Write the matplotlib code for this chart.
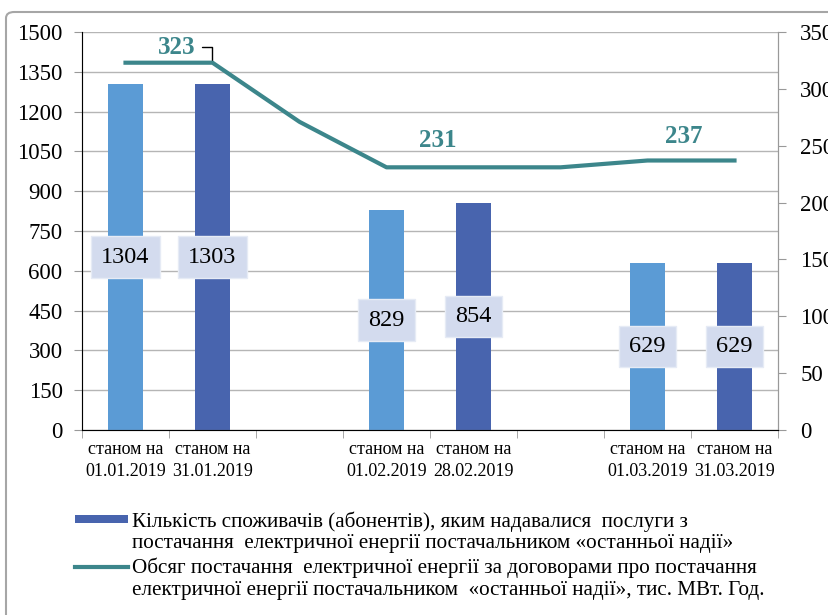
import matplotlib.pyplot as plt
from matplotlib.patches import FancyBboxPatch, Rectangle
from matplotlib.lines import Line2D

plt.rcParams['font.family'] = ['Liberation Serif', 'DejaVu Serif']

categories = ['станом на\n01.01.2019', 'станом на\n31.01.2019', '',
              'станом на\n01.02.2019', 'станом на\n28.02.2019', '',
              'станом на\n01.03.2019', 'станом на\n31.03.2019']
# bars: start-of-month counts (light) and end-of-month counts (dark)
start_pos = [0, 3, 6]
start_vals = [1304, 829, 629]
end_pos = [1, 4, 7]
end_vals = [1303, 854, 629]
# supply volume, thousand MWh
volume = [323, 323, 271, 231, 231, 231, 237, 237]

legend_bar = ('Кількість споживачів (абонентів), яким надавалися  послуги з\n'
              'постачання  електричної енергії постачальником «останньої надії»')
legend_line = ('Обсяг постачання  електричної енергії за договорами про постачання\n'
               'електричної енергії постачальником  «останньої надії», тис. МВт. Год.')

light = '#5b9bd5'
dark = '#4864ae'
teal = '#3c868b'

fig = plt.figure(figsize=(8.29, 6.15), dpi=100)
ax = fig.add_axes([82/829, 1-430/615, 696/829, 398/615])

ax.bar(start_pos, start_vals, width=0.4, color=light, zorder=2)
ax.bar(end_pos, end_vals, width=0.4, color=dark, zorder=2)

box = dict(boxstyle='square,pad=0.42', facecolor='#d3dbee', edgecolor='#e6ebf5', lw=1)
for p, v in zip(start_pos + end_pos, start_vals + end_vals):
    ax.text(p, v / 2, str(v), ha='center', va='center', fontsize=17.5, bbox=box, zorder=3)

ax.set_xlim(-0.5, len(categories) - 0.5)
ax.set_ylim(0, 1500)
ax.set_yticks(range(0, 1501, 150))
ax.set_xticks(range(len(categories)))
ax.set_xticklabels(categories, fontsize=13, linespacing=1.4)
ax.set_xticks([i - 0.5 for i in range(len(categories) + 1)], minor=True)
ax.tick_params(axis='x', which='major', length=0, pad=8)
ax.tick_params(axis='x', which='minor', length=6, color='#999999')
ax.tick_params(axis='y', labelsize=16.5, length=6, color='#999999', pad=8)
ax.yaxis.grid(True, color='#b5b5b5', lw=1)
ax.set_axisbelow(True)
for s in ['left', 'right', 'bottom']:
    ax.spines[s].set_color('#999999')
ax.spines['top'].set_visible(False)

ax2 = ax.twinx()
ax2.plot(range(len(volume)), volume, color=teal, lw=3, zorder=4)
ax2.set_ylim(0, 350)
ax2.set_yticks(range(0, 351, 50))
ax2.tick_params(axis='y', labelsize=16.5, length=6, color='#999999', pad=10)
ax2.spines['top'].set_visible(False)
ax2.spines['right'].set_color('#999999')

ax2.annotate(str(volume[1]), xy=(1, volume[1]), xytext=(-26, 11), textcoords='offset points',
             ha='center', va='center', fontsize=18, fontweight='bold', color=teal,
             arrowprops=dict(arrowstyle='-', color='black', lw=1,
                             connectionstyle='angle,angleA=0,angleB=90,rad=0',
                             shrinkA=3, shrinkB=0))
ax2.annotate(str(volume[3]), xy=(3, volume[3]), xytext=(37, 19), textcoords='offset points',
             ha='center', va='center', fontsize=18, fontweight='bold', color=teal)
ax2.annotate(str(volume[6]), xy=(6, volume[6]), xytext=(26, 17), textcoords='offset points',
             ha='center', va='center', fontsize=18, fontweight='bold', color=teal)

# legend drawn by hand so the marker sits beside the first line of each entry
W, H = 829, 615
fig.patches.append(Rectangle((75/W, 1-523/H), 53/W, 8/H, transform=fig.transFigure,
                             facecolor=dark, edgecolor='none'))
fig.lines.append(Line2D([75/W, 128/W], [1-567/H, 1-567/H], transform=fig.transFigure,
                        color=teal, lw=3))
fig.text(132/W, 1-511/H, legend_bar, ha='left', va='top', fontsize=15.2, linespacing=1.2)
fig.text(132/W, 1-558/H, legend_line, ha='left', va='top', fontsize=15.2, linespacing=1.2)

fig.patches.append(FancyBboxPatch((6/W, -0.05), 1.05, 1 - 12/H + 0.05,
                                  boxstyle='round,pad=0,rounding_size=0.01',
                                  transform=fig.transFigure, facecolor='none',
                                  edgecolor='#a6a6a6', lw=1.5))

fig.savefig('out.png', dpi=100)
